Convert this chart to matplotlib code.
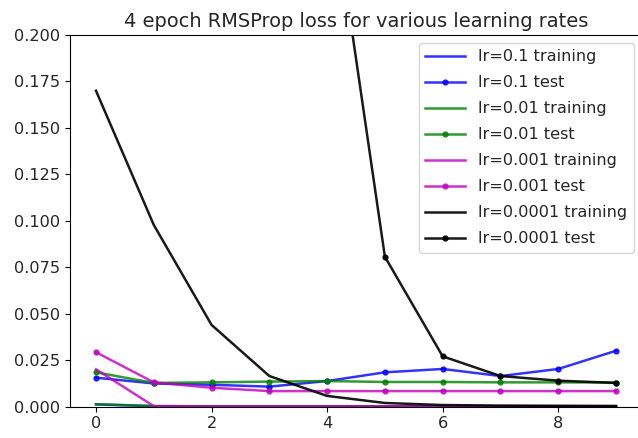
from matplotlib import pyplot as plt
import numpy as np

epochs = np.arange(10)

# lr=0.1
train_01 = [0.0012, 0.0003, 0.0002, 0.0002, 0.0002, 0.0002, 0.0002, 0.0002, 0.0002, 0.0002]
test_01 = [0.0156, 0.0125, 0.0118, 0.0108, 0.0138, 0.0185, 0.0203, 0.0165, 0.0203, 0.0301]
# lr=0.01
train_001 = [0.0014, 0.0003, 0.0002, 0.0002, 0.0002, 0.0002, 0.0002, 0.0002, 0.0002, 0.0002]
test_001 = [0.0185, 0.0128, 0.0131, 0.0135, 0.0138, 0.0133, 0.0133, 0.0131, 0.0131, 0.013]
# lr=0.001
train_0001 = [0.0201, 0.0003, 0.0002, 0.0002, 0.0002, 0.0002, 0.0002, 0.0002, 0.0002, 0.0002]
test_0001 = [0.0293, 0.0131, 0.0102, 0.0084, 0.0084, 0.0084, 0.0084, 0.0084, 0.0084, 0.0084]
# lr=0.0001
train_00001 = [0.170, 0.0978, 0.044, 0.0165, 0.0058, 0.002, 0.0009, 0.0006, 0.0005, 0.0004]
test_00001 = [0.85, 0.62, 0.48, 0.37, 0.294, 0.0807, 0.0271, 0.0165, 0.014, 0.0128]

plt.rcParams['font.size'] = 11.6
plt.rcParams['lines.linewidth'] = 1.8
plt.rcParams['lines.markersize'] = 7
plt.rcParams['text.color'] = '#262626'
plt.rcParams['xtick.labelcolor'] = '#262626'
plt.rcParams['ytick.labelcolor'] = '#262626'

fig = plt.figure(figsize=(6.38, 4.38), dpi=100)
ax = fig.add_axes([70/638, (438-406.7)/438, (642-70)/638, (406.7-35)/438])

ax.plot(epochs, train_01, 'b-', alpha=0.8, label='lr=0.1 training')
ax.plot(epochs, test_01, 'b.-', alpha=0.8, label='lr=0.1 test')
ax.plot(epochs, train_001, 'g-', alpha=0.8, label='lr=0.01 training')
ax.plot(epochs, test_001, 'g.-', alpha=0.8, label='lr=0.01 test')
ax.plot(epochs, train_0001, 'm-', alpha=0.8, label='lr=0.001 training')
ax.plot(epochs, test_0001, 'm.-', alpha=0.8, label='lr=0.001 test')
ax.plot(epochs, train_00001, 'k-', alpha=0.9, label='lr=0.0001 training')
ax.plot(epochs, test_00001, 'k.-', alpha=0.9, label='lr=0.0001 test')

ax.set_ylim(0, 0.2)
ax.set_title('4 epoch RMSProp loss for various learning rates')
ax.legend(loc='upper right', labelspacing=0.68, handlelength=2.5)

plt.savefig('out.png', dpi=100)
